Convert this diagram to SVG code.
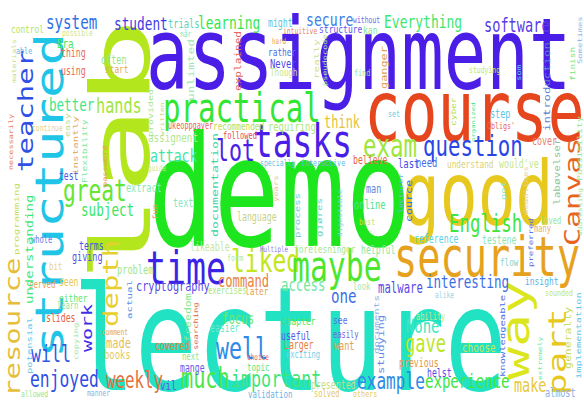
<svg xmlns="http://www.w3.org/2000/svg" width="584" height="400" viewBox="0 0 584 400">
<style>text{font-family:"DejaVu Sans Mono","Liberation Mono",monospace;}</style>
<rect width="584" height="400" fill="#ffffff"/>
<g id="cloud">
<text transform="translate(73 390) scale(.71 1)" font-size="145" fill="#22e2c4">lecture</text>
<text transform="translate(148 246) scale(.71 1)" font-size="154" fill="#1ee61e">demo</text>
<text transform="translate(146 89) scale(.71 1)" font-size="99.5" fill="#4a1ee6">assignment</text>
<text transform="translate(364 141) scale(.71 1)" font-size="86" fill="#e6461e">course</text>
<text transform="translate(402 225) scale(.71 1)" font-size="88.6" fill="#e6c81e">good</text>
<text transform="translate(394 276) scale(.71 1)" font-size="54.4" fill="#e6a21e">security</text>
<text transform="translate(149 283) rotate(-90) scale(1 .56)" font-size="147" fill="#b4e61e">lab</text>
<text transform="translate(63 358) rotate(-90) scale(1 .71)" font-size="54" fill="#20c4e6">structured</text>
<text transform="translate(33 172) rotate(-90) scale(1 .71)" font-size="29" fill="#2e50e6">teacher</text>
<text transform="translate(529 380) rotate(-90) scale(1 .71)" font-size="55" fill="#dce61e">way</text>
<text transform="translate(566 395) rotate(-90) scale(1 .71)" font-size="36" fill="#e6c81e">part</text>
<text transform="translate(580 246) rotate(-90) scale(1 .71)" font-size="30" fill="#e6641e">Canvas</text>
<text transform="translate(118 327) rotate(-90) scale(1 .71)" font-size="29" fill="#e6cf2e">depth</text>
<text transform="translate(20 397) rotate(-90) scale(1 .71)" font-size="29" fill="#e6be3a">resource</text>

<text transform="translate(163 122) scale(.71 1)" font-size="41" fill="#33e633">practical</text>
<text transform="translate(253 157) scale(.71 1)" font-size="46.3" fill="#4a1ee6">tasks</text>
<text transform="translate(216 161) scale(.71 1)" font-size="30.4" fill="#4b22e6">lot</text>
<text transform="translate(146 284) scale(.71 1)" font-size="46.8" fill="#3b24e6">time</text>
<text transform="translate(231 272) scale(.71 1)" font-size="32.4" fill="#c3e61e">liked</text>
<text transform="translate(292 281) scale(.71 1)" font-size="41.9" fill="#4ce62e">maybe</text>
<text transform="translate(363 157) scale(.71 1)" font-size="31.6" fill="#9ee63c">exam</text>
<text transform="translate(423 156) scale(.71 1)" font-size="29.2" fill="#2a45e6">question</text>
<text transform="translate(63 201) scale(.71 1)" font-size="29.9" fill="#64e632">great</text>
<text transform="translate(216 359) scale(.71 1)" font-size="30.4" fill="#2e8ae6">well</text>
<text transform="translate(181 388) scale(.71 1)" font-size="28.5" fill="#4ae64a">much</text>
<text transform="translate(231 387) scale(.71 1)" font-size="23.5" fill="#3ee67a">important</text>
<text transform="translate(449 232) scale(.71 1)" font-size="24.5" fill="#3ee63e">English</text>
<text transform="translate(405 352) scale(.71 1)" font-size="24" fill="#bde628">gave</text>
<text transform="translate(357 389) scale(.71 1)" font-size="22.7" fill="#2e8ae6">example</text>
<text transform="translate(425 388) scale(.71 1)" font-size="19.8" fill="#40e640">experience</text>
<text transform="translate(31 362) scale(.71 1)" font-size="23.4" fill="#2e58e6">will</text>
<text transform="translate(30 387) scale(.71 1)" font-size="23" fill="#2e50e6">enjoyed</text>
<text transform="translate(106 388) scale(.71 1)" font-size="22.2" fill="#e6703c">weekly</text>

<text transform="translate(46 29) scale(.71 1)" font-size="20" fill="#3070e6">system</text>
<text transform="translate(114 30) scale(.71 1)" font-size="18" fill="#3c3ce6">student</text>
<text transform="translate(11 33) scale(.71 1)" font-size="11" fill="#b4e650">control</text>
<text transform="translate(62 36) scale(.71 1)" font-size="9" fill="#d2e68a">possible</text>
<text transform="translate(57 48) scale(.71 1)" font-size="13" fill="#4ee64e">Bra</text>
<text transform="translate(61 57) scale(.71 1)" font-size="11.5" fill="#e6704e">thing</text>
<text transform="translate(61 75) scale(.71 1)" font-size="11.5" fill="#e66a50">using</text>
<text transform="translate(101 64) scale(.71 1)" font-size="12" fill="#96e68c">often</text>
<text transform="translate(105 73) scale(.71 1)" font-size="11" fill="#e6aa50">start</text>
<text transform="translate(16 54) scale(.71 1)" font-size="9.5" fill="#5ab4e6">able</text>
<text transform="translate(49 111) scale(.71 1)" font-size="17.7" fill="#3ee68a">better</text>
<text transform="translate(96 113) scale(.71 1)" font-size="21.4" fill="#a0e63c">hands</text>
<text transform="translate(32 131) scale(.71 1)" font-size="9" fill="#e6d28c">continue</text>
<text transform="translate(168 28) scale(.71 1)" font-size="12.3" fill="#5ad2c0">trials</text>
<text transform="translate(198 29) scale(.71 1)" font-size="18.2" fill="#36e650">learning</text>
<text transform="translate(268 27) scale(.71 1)" font-size="11.5" fill="#5ac8e6">might</text>
<text transform="translate(180 37) scale(.71 1)" font-size="8.7" fill="#6ee6c8">når</text>
<text transform="translate(283 34) scale(.71 1)" font-size="8.9" fill="#e6825a">intuitive</text>
<text transform="translate(272 44) scale(.71 1)" font-size="8.2" fill="#e6a03c">hard</text>
<text transform="translate(268 56) scale(.71 1)" font-size="11" fill="#4a6ee6">rather</text>
<text transform="translate(270 68) scale(.71 1)" font-size="12.5" fill="#4a4ae6">Never</text>
<text transform="translate(270 76) scale(.71 1)" font-size="10.7" fill="#c8e68c">Though</text>
<text transform="translate(168 129) scale(.71 1)" font-size="9.6" fill="#e6645a">ukeoppgaver</text>
<text transform="translate(213 130) scale(.71 1)" font-size="10.9" fill="#b9dc50">recommended</text>
<text transform="translate(268 131) scale(.71 1)" font-size="12.4" fill="#aee678">requiring</text>
<text transform="translate(223 139) scale(.71 1)" font-size="10" fill="#e6504a">followed</text>
<text transform="translate(306 26) scale(.71 1)" font-size="18.5" fill="#3a80e6">secure</text>
<text transform="translate(353 23) scale(.71 1)" font-size="9.1" fill="#7a6ee6">without</text>
<text transform="translate(384 28) scale(.71 1)" font-size="18.3" fill="#3ee66e">Everything</text>
<text transform="translate(319 33) scale(.71 1)" font-size="11.3" fill="#5a5ae6">structure</text>
<text transform="translate(363 34) scale(.71 1)" font-size="11.3" fill="#8ce68c">kan</text>
<text transform="translate(354 76) scale(.71 1)" font-size="9.5" fill="#8ce6a0">find</text>
<text transform="translate(388 117) scale(.71 1)" font-size="9.5" fill="#6ac8e6">set</text>
<text transform="translate(324 128) scale(.71 1)" font-size="16.9" fill="#e6c23a">think</text>
<text transform="translate(484 32) scale(.71 1)" font-size="19.2" fill="#5a3ce6">software</text>
<text transform="translate(469 73) scale(.71 1)" font-size="9.1" fill="#c8e65a">studying</text>
<text transform="translate(490 118) scale(.71 1)" font-size="12" fill="#5ac8e6">step</text>
<text transform="translate(487 129) scale(.71 1)" font-size="9.4" fill="#e6645a">Obligs'</text>
<text transform="translate(148 142) scale(.71 1)" font-size="13" fill="#b4e68c">assignent</text>
<text transform="translate(150 162) scale(.71 1)" font-size="18.5" fill="#3ee6a6">attack</text>
<text transform="translate(148 171) scale(.71 1)" font-size="8.5" fill="#c8e68c">guide</text>
<text transform="translate(126 192) scale(.71 1)" font-size="11.9" fill="#8ce6b4">extract</text>
<text transform="translate(173 207) scale(.71 1)" font-size="12" fill="#8ce6c8">text</text>
<text transform="translate(260 166) scale(.71 1)" font-size="9.2" fill="#6ac8e6">specially</text>
<text transform="translate(237 221) scale(.71 1)" font-size="11.6" fill="#c8d28c">language</text>
<text transform="translate(190 251) scale(.71 1)" font-size="11.6" fill="#c8e6a0">likeable</text>
<text transform="translate(227 261) scale(.71 1)" font-size="9.5" fill="#b4e6a0">form</text>
<text transform="translate(260 252) scale(.71 1)" font-size="8.2" fill="#8c7ee6">Multiple</text>
<text transform="translate(301 166) scale(.71 1)" font-size="9.4" fill="#6ab4e6">interactive</text>
<text transform="translate(353 164) scale(.71 1)" font-size="11.5" fill="#e6644a">believe</text>
<text transform="translate(398 168) scale(.71 1)" font-size="12.5" fill="#4a4ae6">last</text>
<text transform="translate(416 167) scale(.71 1)" font-size="12.5" fill="#4a6ee6">need</text>
<text transform="translate(366 193) scale(.71 1)" font-size="12" fill="#5a8ce6">man</text>
<text transform="translate(354 209) scale(.71 1)" font-size="12.3" fill="#4ae68c">online</text>
<text transform="translate(359 225) scale(.71 1)" font-size="9.5" fill="#c8dc5a">best</text>
<text transform="translate(294 253) scale(.71 1)" font-size="11.1" fill="#a6e68c">forelesninger</text>
<text transform="translate(361 254) scale(.71 1)" font-size="11.5" fill="#8ce6a0">helpful</text>
<text transform="translate(414 243) scale(.71 1)" font-size="11.6" fill="#5ad2e6">reference</text>
<text transform="translate(532 145) scale(.71 1)" font-size="11.7" fill="#e67e6e">cover</text>
<text transform="translate(447 168) scale(.71 1)" font-size="10.9" fill="#dcd278">understand</text>
<text transform="translate(499 168) scale(.71 1)" font-size="11.6" fill="#c8e68c">would've</text>
<text transform="translate(59 180) scale(.71 1)" font-size="11.4" fill="#4a5ae6">test</text>
<text transform="translate(81 216) scale(.71 1)" font-size="17.8" fill="#3ae662">subject</text>
<text transform="translate(31 243) scale(.71 1)" font-size="10" fill="#5a7ee6">whole</text>
<text transform="translate(79 250) scale(.71 1)" font-size="11.5" fill="#3a5ae6">terms</text>
<text transform="translate(72 261) scale(.71 1)" font-size="11.9" fill="#5a4ae6">giving</text>
<text transform="translate(49 270) scale(.71 1)" font-size="10.4" fill="#e6d28c">bit</text>
<text transform="translate(117 274) scale(.71 1)" font-size="12.2" fill="#a0e68c">problem</text>
<text transform="translate(29 288) scale(.71 1)" font-size="10.3" fill="#e6a050">served</text>
<text transform="translate(59 286) scale(.71 1)" font-size="11.4" fill="#e6c85a">seen</text>
<text transform="translate(59 302) scale(.71 1)" font-size="11.1" fill="#5ae66e">either</text>
<text transform="translate(57 309) scale(.71 1)" font-size="10" fill="#8ce6a0">learn</text>
<text transform="translate(46 322) scale(.71 1)" font-size="11.5" fill="#e6643c">slides</text>
<text transform="translate(136 291) scale(.71 1)" font-size="14.4" fill="#5a4ae6">cryptography</text>
<text transform="translate(102 335) scale(.71 1)" font-size="8.7" fill="#e6a050">comment</text>
<text transform="translate(106 348) scale(.71 1)" font-size="14.6" fill="#e6be5a">made</text>
<text transform="translate(104 359) scale(.71 1)" font-size="12.5" fill="#e6c85a">books</text>
<text transform="translate(21 397) scale(.71 1)" font-size="9.1" fill="#a0e68c">allowed</text>
<text transform="translate(87 396) scale(.71 1)" font-size="9" fill="#8cb4e6">manner</text>
<text transform="translate(218 287) scale(.71 1)" font-size="17.1" fill="#e6823c">command</text>
<text transform="translate(208 294) scale(.71 1)" font-size="10" fill="#a6e68c">exercises</text>
<text transform="translate(245 295) scale(.71 1)" font-size="11" fill="#e6a050">later</text>
<text transform="translate(281 291) scale(.71 1)" font-size="17.3" fill="#6ee6a0">access</text>
<text transform="translate(222 324) scale(.71 1)" font-size="15" fill="#6ee66e">focus</text>
<text transform="translate(210 332) scale(.71 1)" font-size="11.5" fill="#6ee6c8">easier</text>
<text transform="translate(155 350) scale(.71 1)" font-size="11.5" fill="#e6823c">covered</text>
<text transform="translate(182 360) scale(.71 1)" font-size="10.1" fill="#8ce68c">next</text>
<text transform="translate(247 360) scale(.71 1)" font-size="8.6" fill="#e6645a">choice</text>
<text transform="translate(180 372) scale(.71 1)" font-size="11.5" fill="#6a5ae6">mange</text>
<text transform="translate(247 371) scale(.71 1)" font-size="10.5" fill="#58e67a">topic</text>
<text transform="translate(160 390) scale(.71 1)" font-size="13" fill="#5a5ae6">vil</text>
<text transform="translate(248 398) scale(.71 1)" font-size="10.4" fill="#6ab4e6">validation</text>
<text transform="translate(282 325) scale(.71 1)" font-size="11.2" fill="#4ee650">chapter</text>
<text transform="translate(281 340) scale(.71 1)" font-size="11.5" fill="#5a5ae6">useful</text>
<text transform="translate(284 349) scale(.71 1)" font-size="11.5" fill="#e6823c">Larger</text>
<text transform="translate(286 358) scale(.71 1)" font-size="10" fill="#6ad2e6">exciting</text>
<text transform="translate(353 290) scale(.71 1)" font-size="10.1" fill="#a0e6b4">look</text>
<text transform="translate(378 293) scale(.71 1)" font-size="15" fill="#5a4ae6">malware</text>
<text transform="translate(426 288) scale(.71 1)" font-size="17.7" fill="#3a6ee6">interesting</text>
<text transform="translate(331 303) scale(.71 1)" font-size="20" fill="#3a70e6">one</text>
<text transform="translate(333 324) scale(.71 1)" font-size="11.3" fill="#5a6ee6">see</text>
<text transform="translate(333 338) scale(.71 1)" font-size="10" fill="#6a6ae6">easily</text>
<text transform="translate(334 350) scale(.71 1)" font-size="12" fill="#e6a050">want</text>
<text transform="translate(406 333) scale(.71 1)" font-size="19.6" fill="#3ee6c0">None</text>
<text transform="translate(416 320) scale(.71 1)" font-size="9.8" fill="#c8e68c">ability</text>
<text transform="translate(399 367) scale(.71 1)" font-size="11.6" fill="#e6964a">previous</text>
<text transform="translate(427 377) scale(.71 1)" font-size="11.5" fill="#5a4ae6">helst</text>
<text transform="translate(311 389) scale(.71 1)" font-size="11.6" fill="#c8dc8c">presented</text>
<text transform="translate(314 397) scale(.71 1)" font-size="9.9" fill="#e6c85a">solved</text>
<text transform="translate(353 397) scale(.71 1)" font-size="9.5" fill="#e6c85a">others</text>
<text transform="translate(525 285) scale(.71 1)" font-size="11.2" fill="#5ab4e6">insight</text>
<text transform="translate(435 298) scale(.71 1)" font-size="9" fill="#9cd2e6">alike</text>
<text transform="translate(545 296) scale(.71 1)" font-size="9.4" fill="#c8e65a">sounded</text>
<text transform="translate(462 352) scale(.71 1)" font-size="13.1" fill="#c8e65a">choose</text>
<text transform="translate(514 392) scale(.71 1)" font-size="19" fill="#e6c83c">make</text>
<text transform="translate(545 397) scale(.71 1)" font-size="11.9" fill="#8caee6">almost</text>
<text transform="translate(540 224) scale(.71 1)" font-size="10" fill="#a0e68c">loved</text>
<text transform="translate(534 232) scale(.71 1)" font-size="10" fill="#e6b45a">many</text>
<text transform="translate(482 244) scale(.71 1)" font-size="11.5" fill="#8ce6b4">testene</text>
<text transform="translate(500 266) scale(.71 1)" font-size="10.8" fill="#8cd2c8">flow</text>

<text transform="translate(15.5 83) rotate(-90) scale(1 .71)" font-size="8.1" fill="#c8dc8c">materials</text>
<text transform="translate(70 137) rotate(-90) scale(1 .71)" font-size="10" fill="#c8dc8c">easy</text>
<text transform="translate(78 175) rotate(-90) scale(1 .71)" font-size="10.9" fill="#e6aa5a">instantly</text>
<text transform="translate(13 170) rotate(-90) scale(1 .71)" font-size="8.5" fill="#e6785a">necessarily</text>
<text transform="translate(87 183) rotate(-90) scale(1 .71)" font-size="9.6" fill="#7ee6a0">Flexibility</text>
<text transform="translate(107 187) rotate(-90) scale(1 .71)" font-size="8.6" fill="#e69a50">password</text>
<text transform="translate(19 255) rotate(-90) scale(1 .71)" font-size="10.9" fill="#c8dc5a">programming</text>
<text transform="translate(33 304) rotate(-90) scale(1 .71)" font-size="14" fill="#3ee67a">understanding</text>
<text transform="translate(153 137) rotate(-90) scale(1 .71)" font-size="10" fill="#a0e68c">provided</text>
<text transform="translate(164 136) rotate(-90) scale(1 .71)" font-size="8" fill="#c8d28c">written</text>
<text transform="translate(194 101) rotate(-90) scale(1 .71)" font-size="12.9" fill="#a0e6b4">unlimted</text>
<text transform="translate(241 91) rotate(-90) scale(1 .71)" font-size="11.1" fill="#e6645a">explained</text>
<text transform="translate(319 79) rotate(-90) scale(1 .71)" font-size="11" fill="#d2dc8c">really</text>
<text transform="translate(327 86) rotate(-90) scale(1 .71)" font-size="8.6" fill="#b4e6a0">pseudocode</text>
<text transform="translate(387 89) rotate(-90) scale(1 .71)" font-size="11.9" fill="#e6a050">ganger</text>
<text transform="translate(582 64) rotate(-90) scale(1 .71)" font-size="8.8" fill="#8cb4e6">Sometimes</text>
<text transform="translate(582 181) rotate(-90) scale(1 .71)" font-size="9.8" fill="#a0e68c">Possibility</text>
<text transform="translate(521 81) rotate(-90) scale(1 .71)" font-size="9" fill="#5ad2e6">som</text>
<text transform="translate(550 131) rotate(-90) scale(1 .71)" font-size="12.3" fill="#5a82d2">introduction</text>
<text transform="translate(575 81) rotate(-90) scale(1 .71)" font-size="9.5" fill="#6ee67a">finish</text>
<text transform="translate(456 126) rotate(-90) scale(1 .71)" font-size="9.5" fill="#b4dc3c">cyber</text>
<text transform="translate(475 142) rotate(-90) scale(1 .71)" font-size="7.3" fill="#3ce68c">organized</text>
<text transform="translate(157 220) rotate(-90) scale(1 .71)" font-size="9" fill="#e6a050">fun</text>
<text transform="translate(218 237) rotate(-90) scale(1 .71)" font-size="13.3" fill="#3ad2a6">documentation</text>
<text transform="translate(278 202) rotate(-90) scale(1 .71)" font-size="8.8" fill="#e6c88c">years</text>
<text transform="translate(342 237) rotate(-90) scale(1 .71)" font-size="8" fill="#8cc8e6">digestible</text>
<text transform="translate(322 237) rotate(-90) scale(1 .71)" font-size="10.8" fill="#5ad2c8">gjøres</text>
<text transform="translate(300 238) rotate(-90) scale(1 .71)" font-size="10.7" fill="#6ac8e6">process</text>
<text transform="translate(403 213) rotate(-90) scale(1 .71)" font-size="8.2" fill="#6ab4e6">lecturer</text>
<text transform="translate(412 222) rotate(-90) scale(1 .71)" font-size="11.7" fill="#2e6ee6">cource</text>
<text transform="translate(528 215) rotate(-90) scale(1 .71)" font-size="9" fill="#e6d28c">deadlines</text>
<text transform="translate(506 200) rotate(-90) scale(1 .71)" font-size="10.5" fill="#8ce6c8">got</text>
<text transform="translate(560 205) rotate(-90) scale(1 .71)" font-size="11.1" fill="#8cc8a0">labøvelser</text>
<text transform="translate(582 236) rotate(-90) scale(1 .71)" font-size="8" fill="#a0e68c">addressing</text>
<text transform="translate(533 267) rotate(-90) scale(1 .71)" font-size="9" fill="#5a6ee6">preferred</text>
<text transform="translate(132 319) rotate(-90) scale(1 .71)" font-size="10.8" fill="#5a8ce6">actual</text>
<text transform="translate(92 352) rotate(-90) scale(1 .71)" font-size="20" fill="#3e2ee6">work</text>
<text transform="translate(78 360) rotate(-90) scale(1 .71)" font-size="8.9" fill="#a0e6b4">copying</text>
<text transform="translate(32 374) rotate(-90) scale(1 .71)" font-size="10.5" fill="#6ac8e6">potensial</text>
<text transform="translate(191 342) rotate(-90) scale(1 .71)" font-size="11.6" fill="#8ce68c">freedom</text>
<text transform="translate(198 350) rotate(-90) scale(1 .71)" font-size="8.8" fill="#e6644a">searching</text>
<text transform="translate(379 354) rotate(-90) scale(1 .71)" font-size="10.9" fill="#8cb4e6">documents</text>
<text transform="translate(384 374) rotate(-90) scale(1 .71)" font-size="12.3" fill="#6a8ce6">studying</text>
<text transform="translate(505 377) rotate(-90) scale(1 .71)" font-size="10.5" fill="#4a6ee6">knowledgeable</text>
<text transform="translate(571 369) rotate(-90) scale(1 .71)" font-size="11.5" fill="#c8dc5a">generally</text>
<text transform="translate(581 379) rotate(-90) scale(1 .71)" font-size="10.3" fill="#5ac8e6">implementation</text>
<text transform="translate(542 380) rotate(-90) scale(1 .71)" font-size="8" fill="#6ee6a0">extremely</text>
</g>
</svg>
